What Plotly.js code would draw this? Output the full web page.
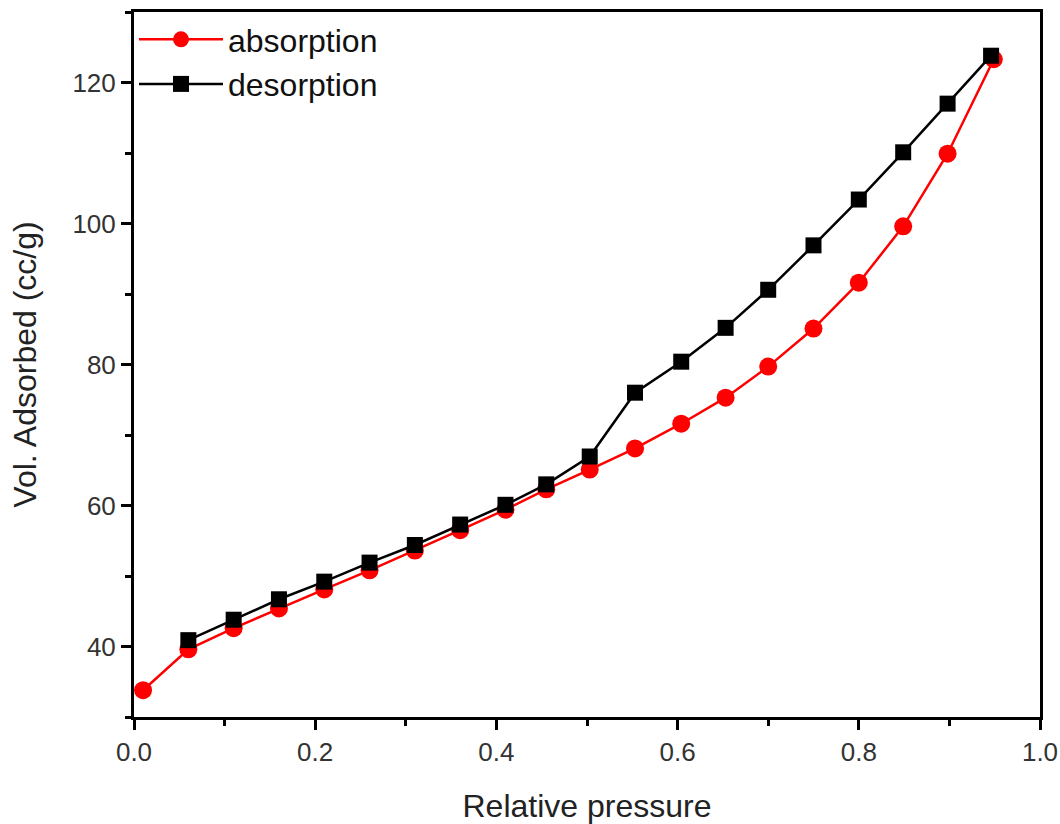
<!DOCTYPE html>
<html>
<head>
<meta charset="utf-8">
<script src="https://cdn.plot.ly/plotly-3.0.1.min.js"></script>
<style>html,body{margin:0;padding:0;background:#fff}#chart{width:1060px;height:824px}</style>
</head>
<body>
<div id="chart"></div>
<script>
const absX = [0.01, 0.06, 0.11, 0.16, 0.21, 0.26, 0.31, 0.36, 0.41, 0.455, 0.503, 0.553, 0.604, 0.653, 0.70, 0.75, 0.80, 0.849, 0.898, 0.949];
const absY = [33.8, 39.6, 42.6, 45.4, 48.1, 50.8, 53.6, 56.5, 59.4, 62.3, 65.1, 68.1, 71.6, 75.3, 79.7, 85.1, 91.6, 99.6, 109.9, 123.3];
const desX = [0.06, 0.11, 0.16, 0.21, 0.26, 0.31, 0.36, 0.41, 0.455, 0.503, 0.553, 0.604, 0.653, 0.70, 0.75, 0.80, 0.849, 0.898, 0.946];
const desY = [40.9, 43.8, 46.7, 49.2, 51.9, 54.4, 57.3, 60.1, 63.0, 66.95, 76.0, 80.4, 85.2, 90.6, 96.9, 103.4, 110.1, 117.0, 123.8];
const xTicks = [0.0, 0.2, 0.4, 0.6, 0.8, 1.0];
const xTickText = ["0.0", "0.2", "0.4", "0.6", "0.8", "1.0"];
const yTicks = [40, 60, 80, 100, 120];

const font = "Liberation Sans, Arial, sans-serif";
const traces = [
  {x: absX, y: absY, name: "absorption", type: "scatter", mode: "lines+markers",
   line: {color: "#ff0000", width: 2.5}, marker: {symbol: "circle", size: 18, color: "#ff0000"}},
  {x: desX, y: desY, name: "desorption", type: "scatter", mode: "lines+markers",
   line: {color: "#000000", width: 2.5}, marker: {symbol: "square", size: 16, color: "#000000"}}
];
const axisCommon = {
  showline: true, linecolor: "#000", linewidth: 3, mirror: true,
  ticks: "outside", ticklen: 10, tickwidth: 3, tickcolor: "#000",
  showgrid: false, zeroline: false,
  tickfont: {family: font, size: 26, color: "#333"}
};
const layout = {
  width: 1060, height: 824,
  margin: {l: 134, r: 20, t: 12, b: 107},
  paper_bgcolor: "#fff", plot_bgcolor: "#fff",
  showlegend: true,
  legend: {x: 0.0, y: 1.0, xanchor: "left", yanchor: "top", bgcolor: "rgba(0,0,0,0)",
           font: {family: font, size: 32, color: "#111"}, tracegroupgap: 0, itemwidth: 84},
  xaxis: Object.assign({}, axisCommon, {
    range: [0, 1], tickvals: xTicks, ticktext: xTickText,
    minor: {dtick: 0.1, ticks: "outside", ticklen: 6, tickwidth: 3, tickcolor: "#000"},
    title: {text: "Relative pressure", font: {family: font, size: 32, color: "#222"}, standoff: 30}
  }),
  yaxis: Object.assign({}, axisCommon, {
    range: [30, 130], tickvals: yTicks,
    minor: {dtick: 10, ticks: "outside", ticklen: 6, tickwidth: 3, tickcolor: "#000"},
    title: {text: "Vol. Adsorbed (cc/g)", font: {family: font, size: 32, color: "#222"}, standoff: 27}
  })
};
Plotly.newPlot("chart", traces, layout, {displayModeBar: false, staticPlot: true});
</script>
</body>
</html>
